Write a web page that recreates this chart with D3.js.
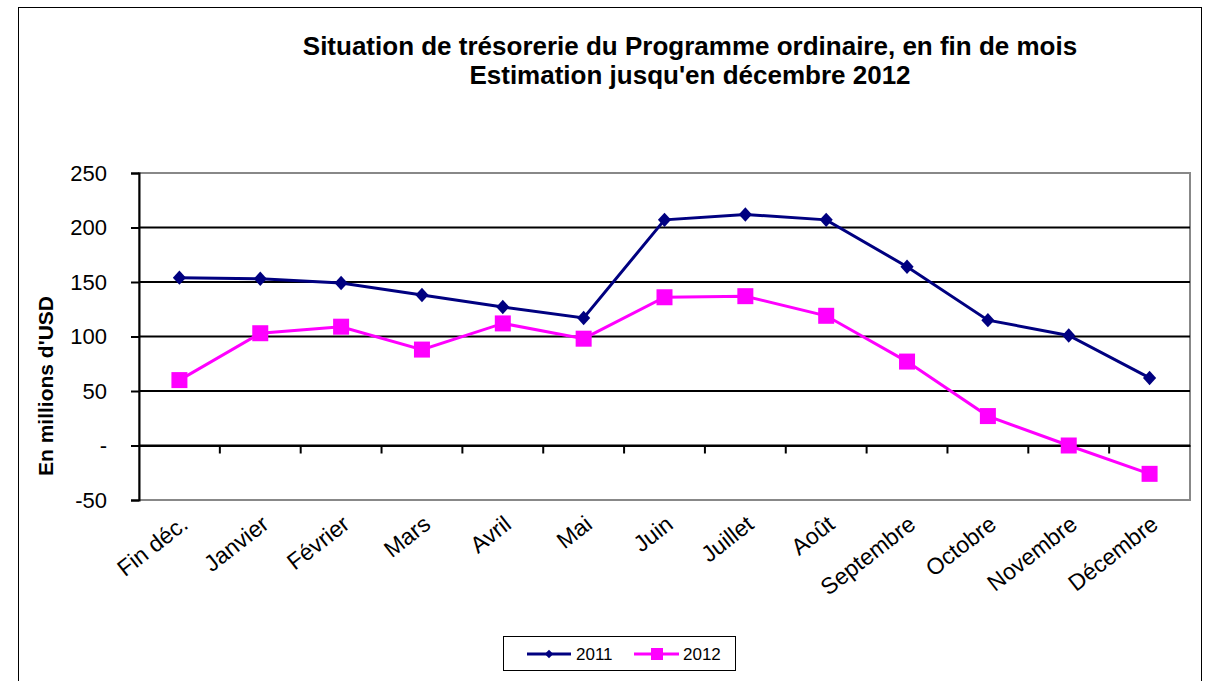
<!DOCTYPE html>
<html>
<head>
<meta charset="utf-8">
<script src="https://cdn.jsdelivr.net/npm/d3@7"></script>
<style>
  body { margin: 0; background: #fff; }
  text { font-family: "Liberation Sans", Arial, sans-serif; }
</style>
</head>
<body>
<svg id="chart" width="1211" height="681"></svg>
<script>
var months = ["Fin déc.", "Janvier", "Février", "Mars", "Avril", "Mai", "Juin",
              "Juillet", "Août", "Septembre", "Octobre", "Novembre", "Décembre"];
var values2011 = [154, 153, 149, 138, 127, 117, 207, 212, 207, 164, 115, 101, 62];
var values2012 = [60, 103, 109, 88, 112, 98, 136, 137, 119, 77, 27, 0, -26];
var yTicks = [-50, 0, 50, 100, 150, 200, 250];

var svg = d3.select("#chart");

// outer chart border
svg.append("rect")
    .attr("x", 18.5).attr("y", 7.5)
    .attr("width", 1183).attr("height", 690)
    .attr("fill", "none").attr("stroke", "#000").attr("stroke-width", 1);

var plotLeft = 139, plotRight = 1190, plotTop = 173, plotBottom = 500;

var x = d3.scaleBand().domain(months).range([plotLeft, plotRight]);
var y = d3.scaleLinear().domain([-50, 250]).range([plotBottom, plotTop]);

// plot frame (gray)
svg.append("rect")
    .attr("x", plotLeft).attr("y", plotTop)
    .attr("width", plotRight - plotLeft).attr("height", plotBottom - plotTop)
    .attr("fill", "none").attr("stroke", "#888").attr("stroke-width", 2);

// gridlines
svg.append("g")
    .selectAll("line")
    .data(yTicks.filter(function (d) { return d !== -50 && d !== 250; }))
    .enter().append("line")
    .attr("x1", plotLeft).attr("x2", plotRight)
    .attr("y1", function (d) { return y(d); })
    .attr("y2", function (d) { return y(d); })
    .attr("stroke", "#000").attr("stroke-width", 2);

// y axis
var yAxis = svg.append("g")
    .attr("transform", "translate(" + plotLeft + ",0)")
    .call(d3.axisLeft(y).tickValues(yTicks).tickSize(8).tickPadding(24)
        .tickFormat(function (d) { return d === 0 ? "-" : d; }));
yAxis.select(".domain").attr("stroke", "#000").attr("stroke-width", 2);
yAxis.selectAll(".tick line").attr("stroke", "#000").attr("stroke-width", 2);
yAxis.selectAll("text")
    .attr("font-size", "22px").attr("fill", "#000")
    .style("font-family", "Liberation Sans, Arial, sans-serif");

// x axis at zero
var xAxis = svg.append("g")
    .attr("transform", "translate(0," + y(0) + ")")
    .call(d3.axisBottom(x).tickSize(0).tickFormat(""));
xAxis.select(".domain").attr("stroke", "#000").attr("stroke-width", 2);

// category separators
svg.append("g")
    .selectAll("line")
    .data(months.slice(1))
    .enter().append("line")
    .attr("x1", function (d) { return x(d); })
    .attr("x2", function (d) { return x(d); })
    .attr("y1", y(0)).attr("y2", y(0) + 8)
    .attr("stroke", "#000").attr("stroke-width", 2);

// x labels
svg.append("g")
    .selectAll("text")
    .data(months)
    .enter().append("text")
    .attr("transform", function (d) {
        return "translate(" + (x(d) + x.bandwidth() / 2 + 10) + "," + (plotBottom + 27) + ") rotate(-38)";
    })
    .attr("text-anchor", "end")
    .attr("font-size", "23px")
    .text(function (d) { return d; });

var line = d3.line()
    .x(function (d, i) { return x(months[i]) + x.bandwidth() / 2; })
    .y(function (d) { return y(d); });

// 2011 series
svg.append("path")
    .datum(values2011)
    .attr("d", line)
    .attr("fill", "none").attr("stroke", "#000080").attr("stroke-width", 3);
svg.append("g")
    .selectAll("path")
    .data(values2011)
    .enter().append("path")
    .attr("d", d3.symbol().type(d3.symbolDiamond2).size(110))
    .attr("transform", function (d, i) {
        return "translate(" + (x(months[i]) + x.bandwidth() / 2) + "," + y(d) + ") scale(1,1.1)";
    })
    .attr("fill", "#000080");

// 2012 series
svg.append("path")
    .datum(values2012)
    .attr("d", line)
    .attr("fill", "none").attr("stroke", "#FF00FF").attr("stroke-width", 3);
svg.append("g")
    .selectAll("rect")
    .data(values2012)
    .enter().append("rect")
    .attr("x", function (d, i) { return x(months[i]) + x.bandwidth() / 2 - 8; })
    .attr("y", function (d) { return y(d) - 8; })
    .attr("width", 16).attr("height", 16)
    .attr("fill", "#FF00FF");

// title
var title = svg.append("text")
    .attr("text-anchor", "middle")
    .attr("font-size", "26px").attr("font-weight", "bold");
title.append("tspan").attr("x", 690).attr("y", 55)
    .text("Situation de trésorerie du Programme ordinaire, en fin de mois");
title.append("tspan").attr("x", 690).attr("y", 84)
    .text("Estimation jusqu'en décembre 2012");

// y axis title
svg.append("text")
    .attr("transform", "translate(53,386) rotate(-90)")
    .attr("text-anchor", "middle")
    .attr("font-size", "21px").attr("font-weight", "bold")
    .text("En millions d'USD");

// legend
var legend = svg.append("g");
legend.append("rect")
    .attr("x", 503.5).attr("y", 636.5)
    .attr("width", 232).attr("height", 34)
    .attr("fill", "#fff").attr("stroke", "#000").attr("stroke-width", 1);
var ly = 654;
legend.append("line").attr("x1", 527).attr("x2", 571).attr("y1", ly).attr("y2", ly)
    .attr("stroke", "#000080").attr("stroke-width", 3);
legend.append("path")
    .attr("d", d3.symbol().type(d3.symbolDiamond2).size(45))
    .attr("transform", "translate(549," + ly + ")")
    .attr("fill", "#000080");
legend.append("text").attr("x", 576).attr("y", ly + 6)
    .attr("font-size", "17px").text("2011");
legend.append("line").attr("x1", 634).attr("x2", 679).attr("y1", ly).attr("y2", ly)
    .attr("stroke", "#FF00FF").attr("stroke-width", 3);
legend.append("rect").attr("x", 651).attr("y", ly - 6).attr("width", 12).attr("height", 12)
    .attr("fill", "#FF00FF");
legend.append("text").attr("x", 683).attr("y", ly + 6)
    .attr("font-size", "17px").text("2012");
</script>
</body>
</html>
